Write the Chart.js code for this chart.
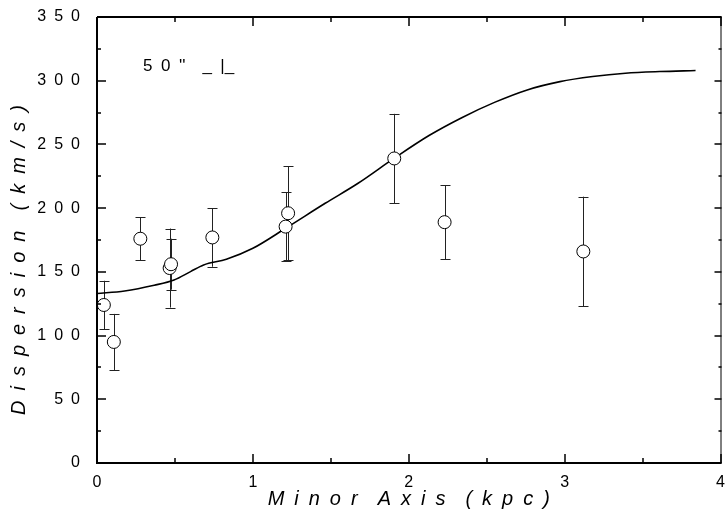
<!DOCTYPE html>
<html>
<head>
<meta charset="utf-8">
<script src="https://cdn.jsdelivr.net/npm/chart.js@4/dist/chart.umd.min.js"></script>
<style>
html,body{margin:0;padding:0;background:#fff;}
#wrap{width:728px;height:515px;position:relative;}
</style>
</head>
<body>
<div id="wrap"><canvas id="c" width="728" height="515"></canvas></div>
<script>
// Observed data points (minor axis distance in kpc, dispersion km/s, error)
const obsX = [0.044, 0.108, 0.278, 0.466, 0.475, 0.74, 1.21, 1.226, 1.907, 2.23, 3.12];
const obsY = [124, 95, 176, 153, 156, 177, 185.5, 196, 239, 189, 166];
const obsErr = [19, 22, 17, 31, 20, 23, 27, 37, 35, 29, 43];

// Model curve
const modelX = [0, 0.177, 0.367, 0.494, 0.6, 0.684, 0.83, 1.0, 1.21, 1.464, 1.675, 1.907, 2.13, 2.34, 2.55, 2.76, 2.97, 3.18, 3.39, 3.61, 3.84];
const modelY = [133, 135, 139.5, 143.6, 150.2, 155.4, 159.9, 168.5, 184.2, 203.8, 219.5, 239.2, 257, 271, 283, 292.8, 299.3, 303.3, 305.9, 307.2, 308];

const xTicks = [0, 1, 2, 3, 4];
const yTicks = [0, 50, 100, 150, 200, 250, 300, 350];
const annotation = "5 0 ''  _ |_";
const xTitle = "Minor Axis (kpc)";
const yTitle = "Dispersion (km/s)";

const FONT = "'Liberation Sans', Arial, sans-serif";
const SP = '\u2002';
const spaced = (s, gap) => s.split(' ').map(w => w.split('').join(gap)).join(gap + gap);

const errorBars = {
  id: 'errorBars',
  beforeDatasetsDraw(chart) {
    const ctx = chart.ctx, xs = chart.scales.x, ys = chart.scales.y;
    ctx.save();
    ctx.strokeStyle = '#222';
    ctx.lineWidth = 1;
    for (let i = 0; i < obsX.length; i++) {
      const px = Math.round(xs.getPixelForValue(obsX[i])) + 0.5;
      const top = ys.getPixelForValue(obsY[i] + obsErr[i]);
      const bot = ys.getPixelForValue(obsY[i] - obsErr[i]);
      ctx.beginPath();
      ctx.moveTo(px, top); ctx.lineTo(px, bot);
      ctx.moveTo(px - 5, Math.round(top) + 0.5); ctx.lineTo(px + 5, Math.round(top) + 0.5);
      ctx.moveTo(px - 5, Math.round(bot) + 0.5); ctx.lineTo(px + 5, Math.round(bot) + 0.5);
      ctx.stroke();
    }
    ctx.restore();
  }
};

const frame = {
  id: 'frame',
  afterDraw(chart) {
    const ctx = chart.ctx, xs = chart.scales.x, ys = chart.scales.y;
    const a = chart.chartArea;
    ctx.save();
    ctx.strokeStyle = '#000';
    ctx.lineWidth = 2;
    ctx.beginPath();
    ctx.moveTo(a.left, a.top); ctx.lineTo(a.left, a.bottom); ctx.lineTo(a.right + 1, a.bottom);
    ctx.moveTo(a.left, a.top); ctx.lineTo(a.right + 1, a.top);
    ctx.stroke();
    ctx.lineWidth = 1;
    ctx.beginPath();
    ctx.moveTo(a.right + 0.5, a.top); ctx.lineTo(a.right + 0.5, a.bottom);
    ctx.stroke();
    ctx.lineWidth = 1.5;
    ctx.beginPath();
    for (let v = 0; v <= 350; v += 25) {
      const py = Math.round(ys.getPixelForValue(v));
      const major = v % 50 === 0;
      ctx.moveTo(a.left, py); ctx.lineTo(a.left + (major ? 9 : 4), py);
      ctx.moveTo(a.right + 1, py); ctx.lineTo(a.right + 1 - (major ? 7 : 3), py);
    }
    for (let v = 0; v <= 4; v += 0.5) {
      const px = Math.round(xs.getPixelForValue(v));
      const major = Math.abs(v - Math.round(v)) < 1e-6;
      const len = major ? 9 : 5;
      ctx.moveTo(px, a.bottom); ctx.lineTo(px, a.bottom - len);
      ctx.moveTo(px, a.top); ctx.lineTo(px, a.top + len);
    }
    ctx.stroke();
    ctx.fillStyle = '#000';
    ctx.font = '17px ' + FONT;
    ctx.textBaseline = 'middle';
    ctx.textAlign = 'left';
    ctx.fillText(annotation.replace(/ /g, SP), 143, 66);
    ctx.restore();
  }
};

new Chart(document.getElementById('c'), {
  type: 'scatter',
  data: {
    datasets: [
      {
        label: 'model',
        data: modelX.map((x, i) => ({x: x, y: modelY[i]})),
        showLine: true,
        borderColor: '#000',
        borderWidth: 1.6,
        pointRadius: 0,
        cubicInterpolationMode: 'monotone',
        fill: false,
        order: 1
      },
      {
        label: 'observed',
        data: obsX.map((x, i) => ({x: x, y: obsY[i]})),
        showLine: false,
        pointRadius: 6.5,
        pointStyle: 'circle',
        pointBackgroundColor: '#fff',
        pointBorderColor: '#000',
        pointBorderWidth: 1,
        order: 0
      }
    ]
  },
  options: {
    responsive: false,
    animation: false,
    devicePixelRatio: 1,
    layout: {padding: {top: 17, right: 1, left: 0, bottom: 0}},
    plugins: {legend: {display: false}, tooltip: {enabled: false}},
    scales: {
      x: {
        type: 'linear', min: 0, max: 4,
        afterBuildTicks(s) { s.ticks = xTicks.map(v => ({value: v})); },
        afterFit(s) { s.height = 52; s.paddingLeft = 0; s.paddingRight = 0; },
        grid: {display: false, drawTicks: false},
        border: {display: false},
        ticks: {color: '#000', font: {family: FONT, size: 16}, padding: 10, maxRotation: 0, autoSkip: false},
        title: {display: true, text: spaced(xTitle, SP), color: '#000', font: {family: FONT, size: 20, style: 'italic'}, padding: {top: 0, bottom: 4}}
      },
      y: {
        type: 'linear', min: 0, max: 350,
        afterBuildTicks(s) { s.ticks = yTicks.map(v => ({value: v})); },
        afterFit(s) { s.width = 97; s.paddingTop = 0; s.paddingBottom = 0; },
        grid: {display: false, drawTicks: false},
        border: {display: false},
        ticks: {color: '#000', font: {family: FONT, size: 16}, padding: 17,
          callback: v => String(v).split('').join(SP)},
        title: {display: true, text: spaced(yTitle, SP) + SP + SP + SP + SP, color: '#000', font: {family: FONT, size: 20, style: 'italic'}, padding: {top: 7, bottom: 0}}
      }
    }
  },
  plugins: [errorBars, frame]
});
</script>
</body>
</html>
